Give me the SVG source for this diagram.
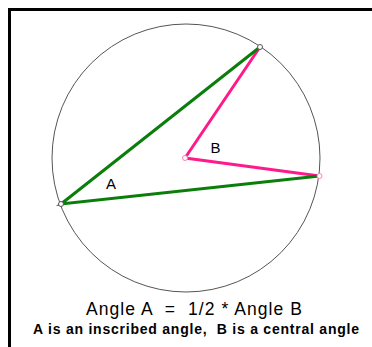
<svg xmlns="http://www.w3.org/2000/svg" width="372" height="347" viewBox="0 0 372 347">
<style>
.green{stroke:#0a7d0a;stroke-width:3;fill:none;stroke-linecap:round}
.pink{stroke:#ff1a8c;stroke-width:3;fill:none;stroke-linecap:round;stroke-linejoin:round}
.pt{fill:#fff;stroke:#555;stroke-width:1}
.ptp{fill:#fff;stroke:#ff7fb8;stroke-width:1}
.lbl{font-family:"Liberation Sans",Arial,sans-serif;fill:#000}
</style>
<rect width="372" height="347" fill="#fff"/>
<path d="M9.5 347 V9.5 H372" stroke="#000" stroke-width="3" fill="none"/>
<g id="circle"><circle cx="186" cy="158" r="134" fill="none" stroke="#555" stroke-width="1"/></g>
<g id="connectors">
<polyline class="pink" points="260,47 185,158 319.5,176"/>
<polyline class="green" points="260,47 61,204 319.5,176"/>
</g>
<g id="pointTop"><circle class="pt" cx="260" cy="47" r="2.5"/></g>
<g id="pointLeft"><circle class="pt" cx="61" cy="204" r="2.5"/></g>
<g id="pointCenter"><circle class="ptp" cx="185" cy="158" r="2.5"/></g>
<g id="pointRight"><circle class="ptp" cx="319.5" cy="176" r="2.5"/></g>
<g id="labelA"><text class="lbl" x="111" y="189" font-size="15" text-anchor="middle">A</text></g>
<g id="labelB"><text class="lbl" x="215.5" y="153" font-size="15" text-anchor="middle">B</text></g>
<g id="caption1"><text class="lbl" x="194" y="315" font-size="17.5" text-anchor="middle" textLength="216" xml:space="preserve">Angle A  =  1/2 * Angle B</text></g>
<g id="caption2"><text class="lbl" x="196" y="334" font-size="14" font-weight="bold" text-anchor="middle" textLength="326" xml:space="preserve">A is an inscribed angle,  B is a central angle</text></g>
</svg>
